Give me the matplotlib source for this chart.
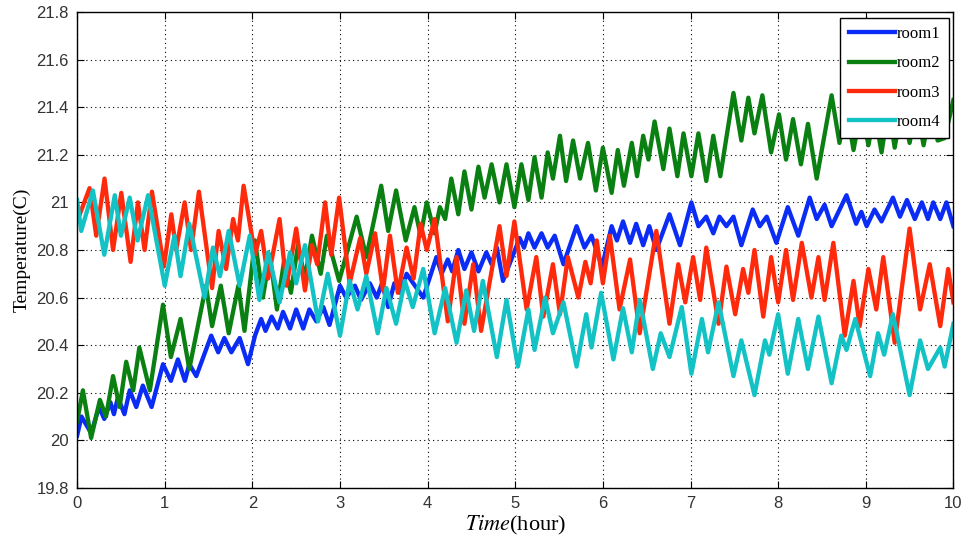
import matplotlib

matplotlib.use("Agg")
import matplotlib.pyplot as plt
from matplotlib.ticker import MultipleLocator

plt.rcParams["mathtext.fontset"] = "stix"

# vertices of each zigzag trace (time in hours, temperature in C)
t_room1 = [0, 0.05, 0.16, 0.25, 0.31, 0.38, 0.42, 0.465, 0.54, 0.60, 0.675, 0.75, 0.85,
           0.98, 1.07, 1.15, 1.23, 1.28, 1.36, 1.53, 1.61, 1.68, 1.76, 1.855, 1.95,
           2.03, 2.10, 2.15, 2.22, 2.29, 2.35, 2.43, 2.50, 2.58, 2.65, 2.73, 2.81, 2.88,
           3.0, 3.07, 3.17, 3.24, 3.34, 3.42, 3.48, 3.55, 3.62, 3.69, 3.76, 3.95,
           4.10, 4.16, 4.23, 4.28, 4.35, 4.42, 4.50, 4.58, 4.67, 4.73, 4.79, 4.86,
           5.05, 5.10, 5.15, 5.22, 5.30, 5.37, 5.45, 5.55, 5.70, 5.79, 5.87, 5.99,
           6.10, 6.16, 6.23, 6.31, 6.38, 6.46, 6.53, 6.61, 6.76, 6.88,
           7.01, 7.09, 7.18, 7.26, 7.33, 7.41, 7.49, 7.58, 7.71, 7.79, 7.87, 7.98,
           8.11, 8.23, 8.36, 8.44, 8.53, 8.61, 8.78, 8.89, 8.95,
           9.01, 9.10, 9.18, 9.31, 9.39, 9.47, 9.56, 9.64, 9.71, 9.77, 9.85, 9.92, 10.0]
T_room1 = [20.02, 20.10, 20.03, 20.14, 20.09, 20.16, 20.11, 20.18, 20.11, 20.21, 20.14, 20.23, 20.14,
           20.32, 20.25, 20.34, 20.25, 20.32, 20.27, 20.44, 20.37, 20.43, 20.37, 20.43, 20.32,
           20.44, 20.51, 20.46, 20.52, 20.47, 20.54, 20.47, 20.55, 20.47, 20.55, 20.50, 20.56, 20.485,
           20.65, 20.60, 20.65, 20.59, 20.66, 20.60, 20.66, 20.56, 20.66, 20.62, 20.70, 20.60,
           20.77, 20.70, 20.76, 20.71, 20.80, 20.72, 20.79, 20.71, 20.79, 20.74, 20.81, 20.67,
           20.85, 20.81, 20.87, 20.81, 20.87, 20.81, 20.86, 20.74, 20.90, 20.81, 20.86, 20.73,
           20.90, 20.84, 20.92, 20.83, 20.91, 20.82, 20.90, 20.80, 20.95, 20.82,
           21.0, 20.90, 20.94, 20.87, 20.94, 20.90, 20.94, 20.82, 20.97, 20.90, 20.94, 20.83,
           20.98, 20.86, 21.02, 20.93, 20.99, 20.90, 21.03, 20.91, 20.96,
           20.90, 20.97, 20.92, 21.02, 20.94, 21.01, 20.93, 21.0, 20.93, 21.0, 20.93, 21.0, 20.90]

t_room2 = [0, 0.066, 0.16, 0.26, 0.33, 0.41, 0.485, 0.56, 0.64, 0.71, 0.83, 0.98, 1.07, 1.18,
           1.28, 1.47, 1.54, 1.64, 1.73, 1.84, 1.91, 2.03, 2.12, 2.20, 2.28, 2.36, 2.44,
           2.52, 2.60, 2.68, 2.78, 2.85, 2.99, 3.19, 3.30, 3.47, 3.55, 3.64, 3.75, 3.85,
           3.92, 3.99, 4.08, 4.14, 4.20, 4.27, 4.35, 4.42, 4.50, 4.58, 4.65, 4.73, 4.82,
           4.90, 4.99, 5.07, 5.15, 5.22, 5.30, 5.37, 5.43, 5.51, 5.58, 5.66, 5.74, 5.83,
           5.92, 6.0, 6.10, 6.17, 6.24, 6.33, 6.39, 6.46, 6.52, 6.59, 6.69, 6.76, 6.85,
           6.92, 7.01, 7.09, 7.18, 7.26, 7.34, 7.49, 7.58, 7.66, 7.73, 7.82, 7.92, 8.01,
           8.09, 8.17, 8.26, 8.34, 8.44, 8.61, 8.70, 8.78, 8.86, 8.95, 9.03, 9.10, 9.18,
           9.26, 9.33, 9.42, 9.50, 9.58, 9.66, 9.74, 9.82, 9.90, 10.0]
T_room2 = [20.08, 20.21, 20.01, 20.17, 20.10, 20.27, 20.14, 20.33, 20.21, 20.39, 20.21, 20.57, 20.35, 20.51,
           20.30, 20.65, 20.48, 20.65, 20.45, 20.65, 20.46, 20.84, 20.60, 20.78, 20.55, 20.75, 20.62,
           20.82, 20.68, 20.86, 20.70, 20.86, 20.67, 20.94, 20.77, 21.07, 20.88, 21.05, 20.84, 20.98,
           20.86, 21.0, 20.87, 20.98, 20.93, 21.10, 20.95, 21.13, 20.97, 21.15, 21.02, 21.16, 21.0,
           21.16, 20.98, 21.16, 21.01, 21.19, 21.02, 21.21, 21.10, 21.28, 21.09, 21.26, 21.10, 21.25,
           21.05, 21.23, 21.04, 21.22, 21.07, 21.25, 21.11, 21.28, 21.18, 21.34, 21.14, 21.31, 21.11,
           21.29, 21.11, 21.29, 21.09, 21.28, 21.11, 21.46, 21.26, 21.44, 21.29, 21.45, 21.21, 21.37,
           21.18, 21.35, 21.16, 21.33, 21.10, 21.45, 21.25, 21.40, 21.22, 21.40, 21.24, 21.38, 21.21,
           21.40, 21.23, 21.42, 21.25, 21.40, 21.24, 21.40, 21.26, 21.27, 21.43]

t_room3 = [0, 0.142, 0.218, 0.313, 0.41, 0.504, 0.61, 0.694, 0.77, 0.854, 0.99, 1.075, 1.13,
           1.227, 1.30, 1.39, 1.54, 1.615, 1.70, 1.78, 1.835, 1.90, 2.03, 2.10, 2.18, 2.31,
           2.39, 2.50, 2.60, 2.68, 2.74, 2.83, 2.90, 2.99, 3.11, 3.23, 3.30, 3.40, 3.49,
           3.57, 3.66, 3.76, 3.84, 3.92, 3.99, 4.08, 4.23, 4.33, 4.42, 4.52, 4.61, 4.82,
           4.90, 4.99, 5.13, 5.24, 5.32, 5.43, 5.51, 5.60, 5.72, 5.80, 5.86, 5.93, 6.0,
           6.08, 6.19, 6.31, 6.42, 6.61, 6.76, 6.86, 6.94, 7.03, 7.11, 7.18, 7.32, 7.41,
           7.51, 7.60, 7.66, 7.73, 7.83, 7.92, 8.0, 8.09, 8.17, 8.27, 8.38, 8.46, 8.53,
           8.63, 8.76, 8.86, 8.93, 9.03, 9.12, 9.20, 9.33, 9.50, 9.62, 9.73, 9.85, 9.94, 10.0]
T_room3 = [20.92, 21.06, 20.86, 21.10, 20.80, 21.04, 20.75, 21.0, 20.80, 21.045, 20.73, 20.95, 20.80,
           21.0, 20.80, 21.045, 20.64, 20.88, 20.72, 20.93, 20.84, 21.07, 20.78, 20.88, 20.68, 20.93,
           20.65, 20.89, 20.63, 20.82, 20.74, 21.0, 20.78, 21.02, 20.66, 20.85, 20.70, 20.87, 20.63,
           20.86, 20.62, 20.81, 20.68, 20.91, 20.80, 20.93, 20.50, 20.77, 20.49, 20.74, 20.46, 20.90,
           20.69, 20.92, 20.55, 20.77, 20.52, 20.74, 20.53, 20.77, 20.60, 20.75, 20.66, 20.84, 20.66,
           20.86, 20.55, 20.76, 20.45, 20.88, 20.49, 20.74, 20.58, 20.77, 20.59, 20.81, 20.49, 20.73,
           20.53, 20.72, 20.62, 20.80, 20.52, 20.77, 20.58, 20.80, 20.59, 20.83, 20.60, 20.77, 20.59,
           20.83, 20.44, 20.67, 20.48, 20.72, 20.55, 20.77, 20.41, 20.89, 20.55, 20.74, 20.48, 20.72, 20.58]

t_room4 = [0, 0.047, 0.18, 0.31, 0.43, 0.50, 0.60, 0.69, 0.81, 1.0, 1.11, 1.18, 1.28, 1.455,
           1.55, 1.63, 1.73, 1.855, 1.97, 2.08, 2.18, 2.31, 2.43, 2.50, 2.60, 2.75, 2.86,
           3.0, 3.11, 3.20, 3.30, 3.43, 3.53, 3.64, 3.74, 3.83, 3.95, 4.08, 4.20, 4.33,
           4.44, 4.53, 4.63, 4.79, 4.90, 5.03, 5.15, 5.22, 5.34, 5.43, 5.55, 5.70, 5.81,
           5.87, 5.98, 6.12, 6.23, 6.33, 6.42, 6.57, 6.66, 6.76, 6.90, 7.01, 7.13, 7.20,
           7.32, 7.49, 7.58, 7.73, 7.85, 7.90, 8.0, 8.11, 8.23, 8.34, 8.46, 8.61, 8.72,
           8.78, 8.88, 9.05, 9.14, 9.21, 9.31, 9.50, 9.62, 9.71, 9.85, 9.90, 10.0]
T_room4 = [21.01, 20.88, 21.05, 20.78, 21.03, 20.86, 21.02, 20.84, 21.03, 20.65, 20.86, 20.69, 20.91, 20.60,
           20.81, 20.69, 20.88, 20.65, 20.86, 20.59, 20.79, 20.58, 20.79, 20.66, 20.82, 20.50, 20.70,
           20.44, 20.67, 20.55, 20.69, 20.45, 20.64, 20.49, 20.67, 20.56, 20.72, 20.45, 20.64, 20.41,
           20.63, 20.46, 20.67, 20.35, 20.59, 20.31, 20.55, 20.38, 20.60, 20.45, 20.58, 20.31, 20.53,
           20.39, 20.62, 20.34, 20.555, 20.37, 20.59, 20.30, 20.45, 20.35, 20.56, 20.28, 20.51, 20.37,
           20.58, 20.27, 20.42, 20.19, 20.42, 20.36, 20.53, 20.28, 20.51, 20.30, 20.52, 20.24, 20.44,
           20.38, 20.51, 20.27, 20.45, 20.36, 20.53, 20.19, 20.42, 20.30, 20.39, 20.31, 20.49]

labels = ["room1", "room2", "room3", "room4"]
colors = ["#0a2cf5", "#0b8012", "#ff2a0c", "#12c2c4"]
y_ticks = [19.8, 20.0, 20.2, 20.4, 20.6, 20.8, 21.0, 21.2, 21.4, 21.6, 21.8]

fig = plt.figure(figsize=(9.64, 5.47), dpi=100)
ax = fig.add_axes([0.080, 0.108, 0.909, 0.870])

series = [(t_room1, T_room1), (t_room2, T_room2), (t_room3, T_room3), (t_room4, T_room4)]
for (t, T), lab, col in zip(series, labels, colors):
    ax.plot(t, T, color=col, linewidth=3.1, label=lab)

ax.set_xlim(0, 10)
ax.set_ylim(19.8, 21.8)
ax.xaxis.set_major_locator(MultipleLocator(1))
ax.set_yticks(y_ticks)
ax.set_yticklabels(["%g" % v for v in y_ticks])
ax.grid(True, color="black", linestyle=(0, (1, 3)), linewidth=0.8)
ax.tick_params(direction="in", top=True, right=True, length=5,
               labelsize=12, pad=6)
for lbl in ax.get_xticklabels() + ax.get_yticklabels():
    lbl.set_family("Liberation Sans")
    lbl.set_color("#333333")
for s in ax.spines.values():
    s.set_linewidth(1.0)

ax.set_xlabel(r"$Time$(hour)", fontsize=16, family="Liberation Serif", labelpad=2)
ax.set_ylabel("Temperature(C)", fontsize=14, family="Liberation Serif", labelpad=4)

leg = ax.legend(loc="upper right", bbox_to_anchor=(0.995, 0.988), borderaxespad=0,
                prop={"family": "Liberation Serif", "size": 12}, fancybox=False,
                framealpha=1, edgecolor="black", handlelength=2.8, handletextpad=0.1,
                labelspacing=0.8, borderpad=0.5)
leg.get_frame().set_linewidth(1.0)

fig.savefig("out.png", dpi=100)
